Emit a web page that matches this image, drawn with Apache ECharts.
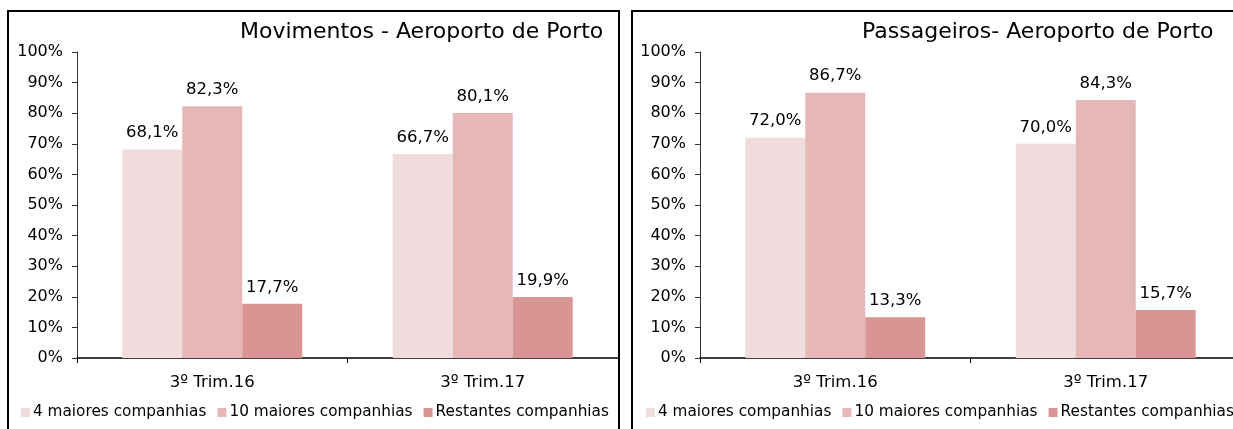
<!DOCTYPE html>
<html>
<head>
<meta charset="utf-8">
<script src="https://cdn.jsdelivr.net/npm/echarts@6/dist/echarts.min.js"></script>
<style>
  html, body { margin: 0; padding: 0; background: #fff; overflow: hidden; }
  #wrap { position: relative; width: 1233px; height: 429px; overflow: hidden; }
  .frame { position: absolute; top: 10px; height: 440px; border: 2px solid #000; box-sizing: border-box; }
  #chart { position: absolute; left: 0; top: 0; width: 1260px; height: 429px; }
</style>
</head>
<body>
<div id="wrap">
  <div class="frame" style="left:7px; width:613px;"></div>
  <div class="frame" style="left:631px; width:640px;"></div>
  <div id="chart"></div>
</div>
<script>
const categories = ['3º Trim.16', '3º Trim.17']
const seriesNames = ['4 maiores companhias', '10 maiores companhias', 'Restantes companhias']
const colors = ['#f0dcdc', '#e5b7b7', '#d99494']

// Movimentos (%)
const mov4 = [68.1, 66.7]
const mov10 = [82.3, 80.1]
const movRest = [17.7, 19.9]

// Passageiros (%)
const pax4 = [72.0, 70.0]
const pax10 = [86.7, 84.3]
const paxRest = [13.3, 15.7]

const yTicks = [0, 10, 20, 30, 40, 50, 60, 70, 80, 90, 100]

const font = 'DejaVu Sans'
const fmt = v => v.toFixed(1).replace('.', ',') + '%'

const chart = echarts.init(document.getElementById('chart'))

const xAxisFor = idx => ({
  type: 'category',
  gridIndex: idx,
  data: categories,
  axisLine: { lineStyle: { color: '#000', width: 1.5 } },
  axisTick: { show: true, length: 5, lineStyle: { color: '#000' } },
  axisLabel: { color: '#000', fontSize: 16.5, fontFamily: font, margin: 16 }
})

const yAxisFor = idx => ({
  type: 'value',
  gridIndex: idx,
  min: yTicks[0],
  max: yTicks[yTicks.length - 1],
  interval: yTicks[1] - yTicks[0],
  splitLine: { show: false },
  axisLine: { show: true, lineStyle: { color: '#333', width: 1 } },
  axisTick: { show: true, length: 5, lineStyle: { color: '#333' } },
  axisLabel: { color: '#000', fontSize: 16, fontFamily: font, margin: 14, formatter: '{value}%' }
})

const barSeries = (name, data, idx, color) => ({
  name: name,
  type: 'bar',
  xAxisIndex: idx,
  yAxisIndex: idx,
  data: data,
  barGap: '0%',
  barCategoryGap: '33.5%',
  itemStyle: { color: color },
  label: {
    show: true,
    position: 'top',
    distance: 8,
    color: '#000',
    fontSize: 16.5,
    fontFamily: font,
    formatter: p => fmt(p.value)
  }
})

const legendFor = left => ({
  left: left,
  top: 405,
  itemWidth: 9,
  itemHeight: 9,
  itemGap: 11,
  icon: 'rect',
  padding: 0,
  textStyle: { color: '#000', fontSize: 15.3, fontFamily: font, padding: [0, 0, 0, -2] },
  data: seriesNames
})

chart.setOption({
  animation: false,
  title: [
    { text: 'Movimentos - Aeroporto de Porto', left: 240, top: 21, padding: 0,
      textStyle: { color: '#000', fontSize: 22, fontWeight: 'normal', fontFamily: font } },
    { text: 'Passageiros- Aeroporto de Porto', left: 862, top: 21, padding: 0,
      textStyle: { color: '#000', fontSize: 22, fontWeight: 'normal', fontFamily: font } }
  ],
  legend: [legendFor(21), Object.assign(legendFor(646), { id: 'l2' })],
  grid: [
    { left: 77, top: 52, width: 541, height: 306 },
    { left: 700, top: 52, width: 541, height: 306 }
  ],
  xAxis: [xAxisFor(0), xAxisFor(1)],
  yAxis: [yAxisFor(0), yAxisFor(1)],
  series: [
    barSeries(seriesNames[0], mov4, 0, colors[0]),
    barSeries(seriesNames[1], mov10, 0, colors[1]),
    barSeries(seriesNames[2], movRest, 0, colors[2]),
    barSeries(seriesNames[0], pax4, 1, colors[0]),
    barSeries(seriesNames[1], pax10, 1, colors[1]),
    barSeries(seriesNames[2], paxRest, 1, colors[2])
  ]
})
</script>
</body>
</html>
